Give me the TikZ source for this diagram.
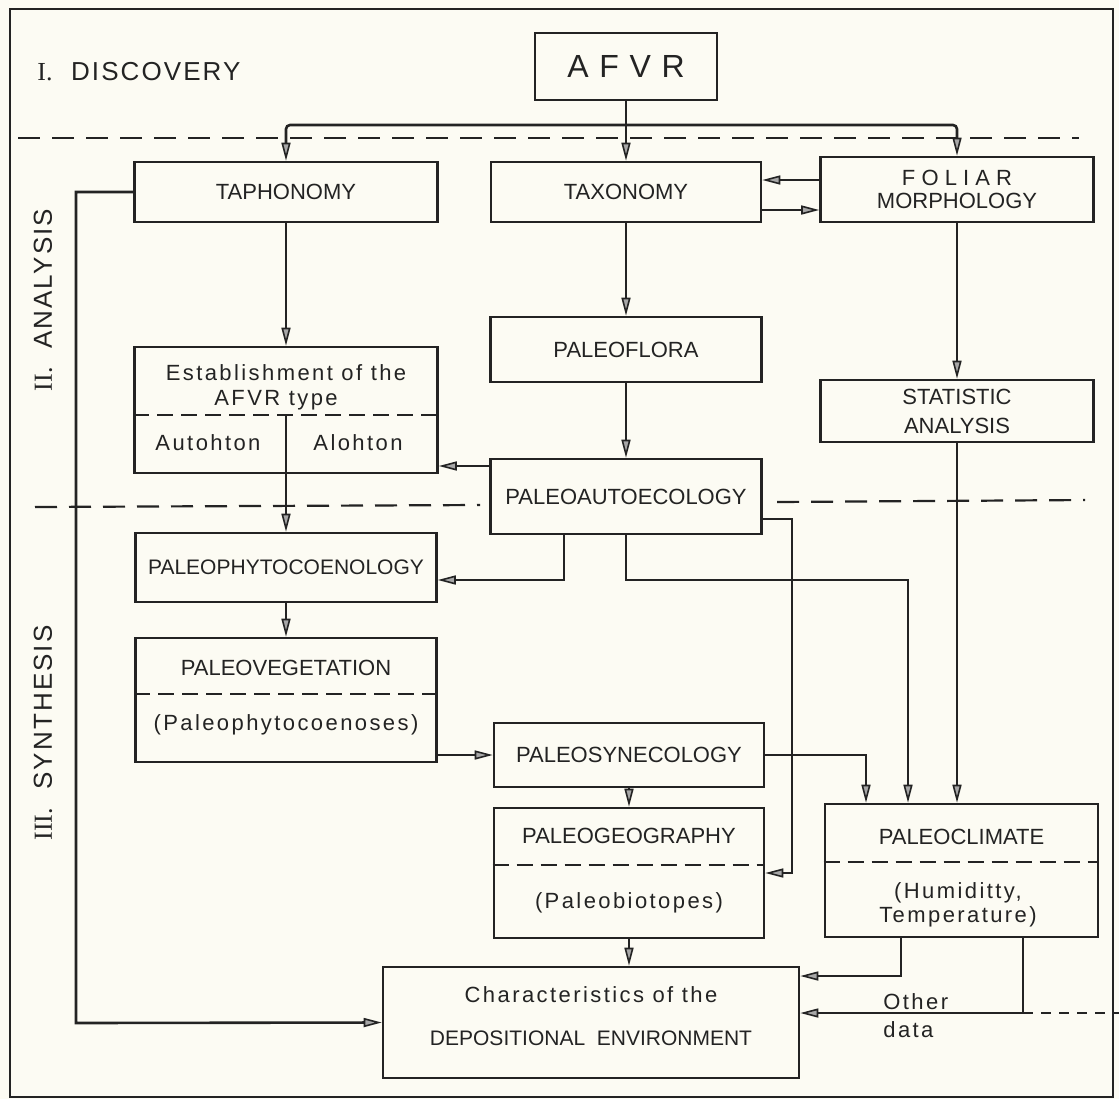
\documentclass[tikz,border=0pt]{standalone}
\usepackage{fontspec}
\setmainfont{Liberation Sans}
\newfontfamily\numfont{Liberation Serif}
\newfontfamily\stagefont[LetterSpace=8]{Liberation Sans}
\newfontfamily\lowfont[LetterSpace=11]{Liberation Sans}
\usetikzlibrary{arrows.meta}
\definecolor{paper}{RGB}{252,251,243}
\definecolor{ink}{RGB}{35,35,35}

\begin{document}
\begin{tikzpicture}[x=0.5pt,y=0.5pt,yscale=-1,
  box/.style={draw=ink,line width=1.3pt,fill=paper,inner sep=0pt,text=ink,align=center,font=\fontsize{11}{12}\selectfont},
  txt/.style={text=ink,inner sep=0pt,align=center,font=\fontsize{11}{12}\selectfont},
  small/.style={text=ink,inner sep=0pt,align=center,font=\fontsize{11}{12}\lowfont},
  stage/.style={text=ink,inner sep=0pt,font=\fontsize{13}{15}\stagefont},
  arr/.style={draw=ink,line width=1.3pt,-{Triangle[length=9pt,width=4.5pt,fill=ink!40,line width=0.8pt]}},
  divide/.style={draw=ink,line width=1.1pt,dash pattern=on 8pt off 4pt},
  stageline/.style={draw=ink,line width=1.1pt,dash pattern=on 11pt off 6pt}]
\useasboundingbox (0,0) rectangle (1119,1099);
\fill[paper] (0,0) rectangle (1119,1099);

%Shape: Rectangle (frame)
\draw[ink,line width=1.1pt] (10,9) rectangle (1113,1097);

%Straight Lines (stage borders)
\draw[stageline] (18,138) -- (1079,138);
\draw[stageline] (35,507) -- (480,505);
\draw[stageline] (777,502) -- (1085,500);
\draw[stageline,dash pattern=on 5pt off 4pt] (1023,1013) -- (1119,1013);

% Stage titles
\node[stage,anchor=west] (disc) at (37,72) {{\numfont I.}\ \ DISCOVERY};
\node[stage,rotate=90] (anal) at (43,300) {{\numfont II.}\ \ ANALYSIS};
\node[stage,rotate=90] (synt) at (43,733) {{\numfont III.}\ \ SYNTHESIS};

%Shape: Rectangle
\node[box,minimum width=91pt,minimum height=33.5pt,font=\fontsize{16}{18}\selectfont] (afvr) at (626,66.5) {A\,\,F\,\,V\,\,R};
\node[box,minimum width=151.5pt,minimum height=30pt] (taph) at (286,192) {TAPHONOMY};
\node[box,minimum width=135pt,minimum height=30pt] (tax) at (626,192) {TAXONOMY};
\node[box,minimum width=136.5pt,minimum height=32.5pt,font=\fontsize{11}{11.5}\selectfont] (fol) at (957,189.5) {F O L I A R\\MORPHOLOGY};
\node[box,minimum width=135.5pt,minimum height=32.5pt] (flora) at (626,349.5) {PALEOFLORA};
\node[box,minimum width=151.5pt,minimum height=63pt] (est) at (286,410) {};
\node[box,minimum width=136.5pt,minimum height=31pt,font=\fontsize{11}{14.5}\selectfont] (stat) at (957,411) {STATISTIC\\ANALYSIS};
\node[box,minimum width=135.5pt,minimum height=37.5pt] (auto) at (626,496.5) {PALEOAUTOECOLOGY};
\node[box,minimum width=150.5pt,minimum height=34.5pt,font=\fontsize{10.5}{12}\selectfont] (phyto) at (286,567.5) {PALEOPHYTOCOENOLOGY};
\node[box,minimum width=150.5pt,minimum height=62pt] (veg) at (286,700) {};
\node[box,minimum width=135pt,minimum height=32pt] (syn) at (629,755) {PALEOSYNECOLOGY};
\node[box,minimum width=135pt,minimum height=65pt] (geo) at (629,873) {};
\node[box,minimum width=136.5pt,minimum height=66.5pt] (clim) at (961.5,870.5) {};
\node[box,minimum width=208pt,minimum height=55.5pt] (char) at (591,1022.5) {};

% Text Node
\node[small] (estA) at (286,373) {Establishment of the};
\node[small] (estB) at (276,400) {AFVR type};
\node[small] (autoch) at (208,443) {Autohton};
\node[small] (alloch) at (358,443) {Alohton};
\node[txt] (vegA) at (286,668) {PALEOVEGETATION};
\node[small] (vegB) at (286,725) {(Paleophytocoenoses)};
\node[txt] (geoA) at (629,836) {PALEOGEOGRAPHY};
\node[small] (geoB) at (629,903) {(Paleobiotopes)};
\node[txt] (climA) at (961.5,837) {PALEOCLIMATE};
\node[small] (climB) at (958,905) {(Humiditty,\\Temperature)};
\node[small] (charA) at (591,995) {Characteristics of the};
\node[txt,font=\fontsize{10.5}{12}\selectfont] (charB) at (591,1038) {DEPOSITIONAL\ \ ENVIRONMENT};
\node[small,anchor=west,align=left] (otherA) at (883,1002) {Other};
\node[small,anchor=west,align=left] (otherB) at (883,1030) {data};

% dashed splits inside boxes
\draw[divide] (est.west |- 0,415) -- (est.east |- 0,415);
\draw[divide] (veg.west |- 0,694) -- (veg.east |- 0,694);
\draw[divide] (geo.west |- 0,865) -- (geo.east |- 0,865);
\draw[divide] (clim.west |- 0,862) -- (clim.east |- 0,862);

%Straight Lines (connectors)
\coordinate (bus) at (0,125);
\draw[arr] (afvr.south) -- (tax.north);
\draw[arr,rounded corners=2pt] (afvr.south |- bus) -| (taph.north);
\draw[arr,rounded corners=2pt] (afvr.south |- bus) -| (fol.north);
\draw[arr] (fol.west |- 0,180) -- (tax.east |- 0,180);
\draw[arr] (tax.east |- 0,210) -- (fol.west |- 0,210);
\draw[arr] (taph.south) -- (est.north);
\draw[arr] (tax.south) -- (flora.north);
\draw[arr] (fol.south) -- (stat.north);
\draw[arr] (flora.south) -- (auto.north);
\draw[arr] (auto.west |- 0,466) -- (est.east |- 0,466);
\draw[arr] (est.center |- 0,415) -- (phyto.north);
\draw[arr] (auto.south -| 564,0) |- (phyto.east |- 0,580);
\draw[arr] (auto.east |- 0,519) -- (792,519) |- (geo.east);
\draw[arr] (auto.south) |- (908,580) -- (clim.north -| 908,0);
\draw[arr] (stat.south) -- (stat.south |- clim.north);
\draw[arr] (phyto.south) -- (veg.north);
\draw[arr] (veg.east |- syn.west) -- (syn.west);
\draw[arr] (syn.east) -| (clim.north -| 866,0);
\draw[arr] (syn.south) -- (geo.north);
\draw[arr] (geo.south) -- (geo.south |- char.north);
\draw[arr] (clim.south -| 901,0) |- (char.east |- 0,976);
\coordinate (other) at (1023,1013);
\draw[arr] (clim.south -| other) |- (char.east |- other);
\draw[arr] (taph.west) -| (76,1023) -- (char.west);

\end{tikzpicture}
\end{document}
